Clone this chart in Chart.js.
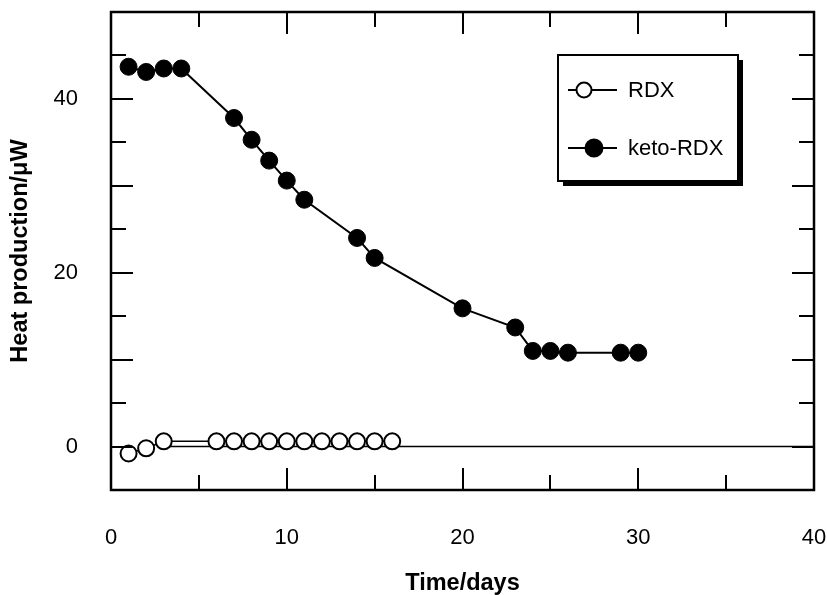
<!DOCTYPE html>
<html>
<head>
<meta charset="utf-8">
<style>
  html, body { margin: 0; padding: 0; background: #fff; }
  canvas { display: block; }
</style>
<script src="https://cdn.jsdelivr.net/npm/chart.js@4.4.0/dist/chart.umd.min.js"></script>
</head>
<body>
<canvas id="c" width="827" height="595"></canvas>
<script>
// ---- data ----
const rdxDays  = [1, 2, 3, 6, 7, 8, 9, 10, 11, 12, 13, 14, 15, 16];
const rdxHeat  = [-0.8, -0.2, 0.6, 0.6, 0.6, 0.6, 0.6, 0.6, 0.6, 0.6, 0.6, 0.6, 0.6, 0.6];
const ketoDays = [1, 2, 3, 4, 7, 8, 9, 10, 11, 14, 15, 20, 23, 24, 25, 26, 29, 30];
const ketoHeat = [43.7, 43.1, 43.5, 43.5, 37.8, 35.3, 32.9, 30.6, 28.4, 24.0, 21.7, 15.9, 13.7, 11.0, 11.0, 10.8, 10.8, 10.8];
const baselineDays = [3, 40];
const baselineHeat = [0, 0];
const xTickLabels = [0, 10, 20, 30, 40];
const yTickLabels = [0, 20, 40];
const seriesNames = ['RDX', 'keto-RDX'];
const xTitle = 'Time/days';
const yTitle = 'Heat production/\u03BCW';

const FONT = '"Liberation Sans", Arial, Helvetica, sans-serif';
const toXY = (xs, ys) => xs.map((x, i) => ({ x: x, y: ys[i] }));
const noPad = s => { s.paddingLeft = 0; s.paddingRight = 0; s.paddingTop = 0; s.paddingBottom = 0; };

// inward ticks + frame
const frameTicks = {
  id: 'frameTicks',
  afterDatasetsDraw(chart) {
    const { ctx, chartArea: a, scales: { x, y } } = chart;
    ctx.save();
    ctx.strokeStyle = '#000';
    ctx.lineWidth = 2;
    ctx.lineCap = 'butt';
    for (let v = x.min + 5; v < x.max; v += 5) {
      const px = Math.round(x.getPixelForValue(v));
      const len = (v % 10 === 0) ? 22 : 15;
      ctx.beginPath();
      ctx.moveTo(px, a.bottom); ctx.lineTo(px, a.bottom - len);
      ctx.moveTo(px, a.top); ctx.lineTo(px, a.top + len);
      ctx.stroke();
    }
    for (let v = y.min + 5; v < y.max; v += 5) {
      const py = Math.round(y.getPixelForValue(v));
      const len = (v % 10 === 0) ? 22 : 15;
      ctx.beginPath();
      ctx.moveTo(a.left, py); ctx.lineTo(a.left + len, py);
      ctx.moveTo(a.right, py); ctx.lineTo(a.right - len, py);
      ctx.stroke();
    }
    ctx.lineWidth = 2.5;
    ctx.strokeRect(a.left, a.top, a.right - a.left, a.bottom - a.top);
    ctx.restore();
  }
};

// boxed legend with drop shadow
const boxLegend = {
  id: 'boxLegend',
  afterDraw(chart) {
    const ctx = chart.ctx;
    const bx = 558, by = 55, bw = 180, bh = 126, sh = 5;
    ctx.save();
    ctx.fillStyle = '#000';
    ctx.fillRect(bx + sh, by + sh, bw, bh);
    ctx.fillStyle = '#fff';
    ctx.fillRect(bx, by, bw, bh);
    ctx.strokeStyle = '#000';
    ctx.lineWidth = 2;
    ctx.strokeRect(bx, by, bw, bh);
    const rows = [
      { y: 90, cx: 584, r: 7.5, fill: '#fff' },
      { y: 148, cx: 594, r: 8.5, fill: '#000' }
    ];
    rows.forEach((row, i) => {
      ctx.lineWidth = 2;
      ctx.beginPath();
      ctx.moveTo(568, row.y); ctx.lineTo(617, row.y);
      ctx.stroke();
      ctx.beginPath();
      ctx.arc(row.cx, row.y, row.r, 0, Math.PI * 2);
      ctx.fillStyle = row.fill;
      ctx.fill();
      ctx.stroke();
      ctx.fillStyle = '#000';
      ctx.font = '22px ' + FONT;
      ctx.textAlign = 'left';
      ctx.textBaseline = 'middle';
      ctx.fillText(chart.data.datasets[i].label, 628, row.y + 1);
    });
    ctx.restore();
  }
};

new Chart(document.getElementById('c'), {
  type: 'scatter',
  data: {
    datasets: [
      {
        label: seriesNames[0],
        data: toXY(rdxDays, rdxHeat),
        showLine: true,
        borderColor: '#000',
        borderWidth: 1.5,
        pointRadius: 8,
        pointBorderWidth: 2,
        pointBackgroundColor: '#fff',
        pointBorderColor: '#000',
        tension: 0
      },
      {
        label: seriesNames[1],
        data: toXY(ketoDays, ketoHeat),
        showLine: true,
        borderColor: '#000',
        borderWidth: 2,
        pointRadius: 8.5,
        pointBorderWidth: 1,
        pointBackgroundColor: '#000',
        pointBorderColor: '#000',
        tension: 0
      },
      {
        label: 'baseline',
        data: toXY(baselineDays, baselineHeat),
        showLine: true,
        borderColor: '#000',
        borderWidth: 1.5,
        pointRadius: 0
      }
    ]
  },
  options: {
    responsive: false,
    animation: false,
    devicePixelRatio: 1,
    layout: { padding: { left: 0, right: 13, top: 12, bottom: 0 } },
    plugins: { legend: { display: false }, tooltip: { enabled: false } },
    scales: {
      x: {
        type: 'linear',
        min: 0, max: 40,
        grid: { display: false, drawTicks: false },
        border: { display: false },
        afterBuildTicks: s => { s.ticks = xTickLabels.map(v => ({ value: v })); },
        afterFit: s => { s.height = 105; noPad(s); },
        ticks: { color: '#000', font: { family: FONT, size: 22 }, padding: 35, maxRotation: 0 },
        title: { display: true, text: xTitle, color: '#000', font: { family: FONT, size: 23.5, weight: 'bold', lineHeight: 1 }, padding: { top: 0, bottom: 0 } }
      },
      y: {
        type: 'linear',
        min: -5, max: 50,
        grid: { display: false, drawTicks: false },
        border: { display: false },
        afterBuildTicks: s => { s.ticks = yTickLabels.map(v => ({ value: v })); },
        afterFit: s => { s.width = 111; noPad(s); },
        ticks: { color: '#000', font: { family: FONT, size: 22 }, padding: 33 },
        title: { display: true, text: yTitle, color: '#000', font: { family: FONT, size: 23.5, weight: 'bold', lineHeight: 1 }, padding: { top: 8.5, bottom: 0 } }
      }
    }
  },
  plugins: [frameTicks, boxLegend]
});
</script>
</body>
</html>
